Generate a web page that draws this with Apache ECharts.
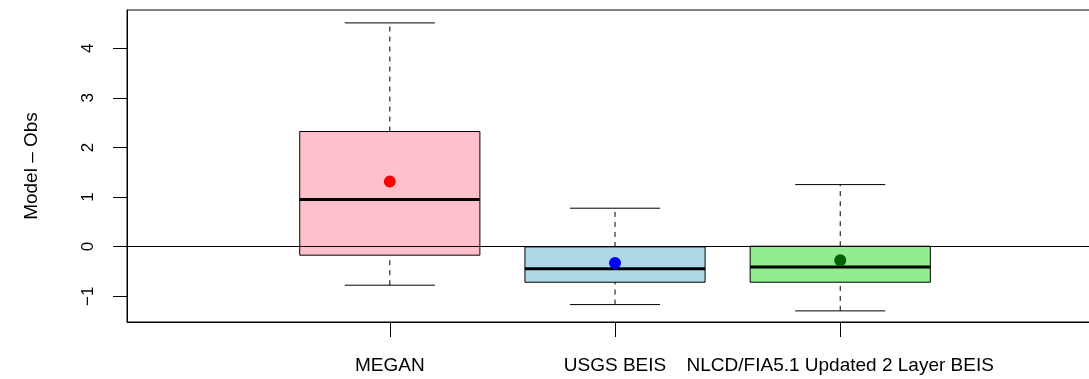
<!DOCTYPE html>
<html>
<head>
<meta charset="utf-8">
<script src="https://cdn.jsdelivr.net/npm/echarts@6/dist/echarts.min.js"></script>
<style>
html,body{margin:0;padding:0;background:#fff;}
#chart{width:1089px;height:379px;}
</style>
</head>
<body>
<div id="chart"></div>
<script>
// ---- data ----
var categories = ['MEGAN', 'USGS BEIS', 'NLCD/FIA5.1 Updated 2 Layer BEIS'];
var whiskerLow  = [-0.778, -1.169, -1.296];
var q1          = [-0.173, -0.718, -0.718];
var median      = [0.948, -0.444, -0.409];
var q3          = [2.32, -0.006, 0.008];
var whiskerHigh = [4.51, 0.774, 1.25];
var means       = [1.31, -0.329, -0.274];
var yTicks      = [-1, 0, 1, 2, 3, 4];
var xTicks      = [1, 2, 3];

// ---- styles ----
var boxColors  = ['#FFC0CB', '#ADD8E6', '#90EE90'];
var meanColors = ['#FF0000', '#0000FF', '#006400'];
var FONT = '"Liberation Sans", Arial, Helvetica, sans-serif';

var boxData = categories.map(function (c, i) {
  return [i + 1, whiskerLow[i], q1[i], median[i], q3[i], whiskerHigh[i]];
});
var meanData = categories.map(function (c, i) {
  return { value: [i + 1, means[i]], itemStyle: { color: meanColors[i], opacity: 1 } };
});

var chart = echarts.init(document.getElementById('chart'), null, { renderer: 'canvas' });

var option = {
  backgroundColor: '#fff',
  animation: false,
  grid: {
    left: 127, top: 10, height: 312, width: 1006,
    outerBoundsMode: 'none', containLabel: false,
    show: true, borderColor: '#000', borderWidth: 1, backgroundColor: 'transparent'
  },
  xAxis: {
    type: 'value', min: -0.167, max: 4.3,
    axisLine: { show: true, onZero: false, lineStyle: { color: '#000', width: 1 } },
    axisTick: { show: true, customValues: xTicks, length: 15, inside: false, lineStyle: { color: '#000' } },
    axisLabel: {
      show: true, customValues: xTicks, margin: 34,
      color: '#000', fontSize: 19, fontFamily: FONT,
      formatter: function (v) { return categories[Math.round(v) - 1] || ''; }
    },
    splitLine: { show: false }
  },
  yAxis: {
    type: 'value', min: -1.52, max: 4.77,
    name: 'Model \u2013 Obs', nameLocation: 'middle', nameGap: 86,
    nameTextStyle: { color: '#000', fontSize: 19, fontFamily: FONT },
    axisLine: { show: true, onZero: false, lineStyle: { color: '#000', width: 1 } },
    axisTick: { show: true, customValues: yTicks, length: 14, inside: false, lineStyle: { color: '#000' } },
    axisLabel: {
      show: true, customValues: yTicks, rotate: 90, margin: 30,
      color: '#000', fontSize: 17, fontFamily: FONT,
      formatter: function (v) { return String(v).replace('-', '\u2212'); }
    },
    splitLine: { show: false }
  },
  series: [
    {
      type: 'custom',
      z: 2,
      data: boxData,
      encode: { x: 0, y: [1, 2, 3, 4, 5] },
      renderItem: function (params, api) {
        var i = params.dataIndex;
        var x = api.value(0);
        var lo = api.value(1), b1 = api.value(2), md = api.value(3), b3 = api.value(4), hi = api.value(5);
        var half = 0.4, cap = 0.2;
        var pLT = api.coord([x - half, b3]);
        var pRB = api.coord([x + half, b1]);
        var pc = function (v) { return api.coord([x, v]); };
        var lineStyle = { stroke: '#000', lineWidth: 1 };
        var dashStyle = { stroke: '#000', lineWidth: 1, lineDash: [5, 5] };
        var capL = function (v) { return api.coord([x - cap, v]); };
        var capR = function (v) { return api.coord([x + cap, v]); };
        return {
          type: 'group',
          children: [
            { type: 'line', shape: { x1: pc(b3)[0], y1: pc(b3)[1], x2: pc(hi)[0], y2: pc(hi)[1] }, style: dashStyle },
            { type: 'line', shape: { x1: pc(lo)[0], y1: pc(lo)[1], x2: pc(b1)[0], y2: pc(b1)[1] }, style: dashStyle },
            { type: 'line', shape: { x1: capL(hi)[0], y1: capL(hi)[1], x2: capR(hi)[0], y2: capR(hi)[1] }, style: lineStyle },
            { type: 'line', shape: { x1: capL(lo)[0], y1: capL(lo)[1], x2: capR(lo)[0], y2: capR(lo)[1] }, style: lineStyle },
            { type: 'rect', shape: { x: pLT[0], y: pLT[1], width: pRB[0] - pLT[0], height: pRB[1] - pLT[1] },
              style: { fill: boxColors[i], stroke: '#000', lineWidth: 1 } },
            { type: 'line', shape: { x1: api.coord([x - half, md])[0], y1: api.coord([x - half, md])[1],
                                     x2: api.coord([x + half, md])[0], y2: api.coord([x + half, md])[1] },
              style: { stroke: '#000', lineWidth: 3 } }
          ]
        };
      }
    },
    {
      type: 'line',
      z: 3,
      data: [],
      markLine: {
        silent: true, symbol: ['none', 'none'],
        label: { show: false },
        lineStyle: { color: '#000', width: 1, type: 'solid' },
        data: [{ yAxis: 0 }]
      }
    },
    {
      type: 'scatter',
      z: 4,
      symbol: 'circle',
      symbolSize: 12,
      data: meanData
    }
  ]
};
chart.setOption(option);
</script>
</body>
</html>
